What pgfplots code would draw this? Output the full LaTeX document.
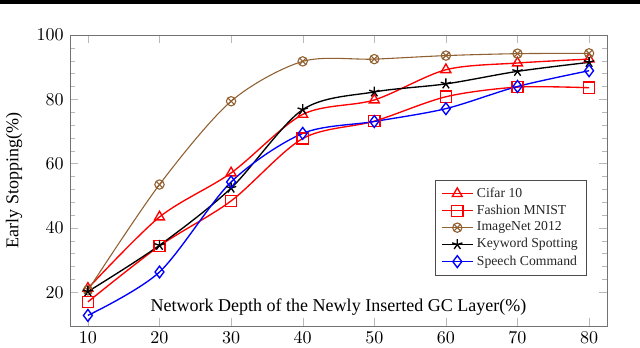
\documentclass[border=0pt]{standalone}
\usepackage{fontspec}
\setmainfont{Liberation Serif}
\usepackage{pgfplots}
\pgfplotsset{compat=1.18}

\begin{document}
\begin{tikzpicture}
% page size: 640 x 347 px at 0.555pt per px, axis box at the origin
\path[use as bounding box] (-38.85pt,-11.655pt) rectangle (316.35pt,180.93pt);
\fill[black] (-38.85pt,178.9pt) rectangle (316.35pt,180.93pt);
\begin{axis}[
  at={(0,0)}, anchor=south west,
  scale only axis,
  width=298.035pt, height=161.505pt,
  xmin=7.5, xmax=82.5,
  ymin=9.5, ymax=100,
  xtick={10,20,...,80},
  ytick={20,40,...,100},
  minor y tick num=4,
  axis line style={black!55},
  tick style={black!28},
  xlabel={Network Depth of the Newly Inserted GC Layer(\%)},
  ylabel={Early Stopping(\%)},
  xlabel style={at={(axis description cs:0.5,0.065)}, anchor=center},
  ylabel style={at={(axis description cs:-0.1043,0.5)}, anchor=center, rotate=0},
  legend style={at={(0.963,0.502)}, anchor=north east, draw=black!70,
    font=\fontsize{7.6}{8.6}\selectfont, cells={anchor=west}, row sep=-1.3pt,
    text=black!85},
  every axis plot/.append style={smooth, line width=0.75pt},
]
\addplot[red, mark=triangle, mark size=3.2pt, mark options={fill=white, solid}]
  coordinates {(10,21.2)(20,43.4)(30,57.1)(40,75.3)(50,79.8)(60,89.2)(70,91.3)(80,92.5)};
\addlegendentry{Cifar 10}
\addplot[red, mark=square, mark size=3.1pt, mark options={fill=white}]
  coordinates {(10,17)(20,34.4)(30,48.4)(40,67.8)(50,73.2)(60,80.8)(70,83.8)(80,83.6)};
\addlegendentry{Fashion MNIST}
\addplot[brown!75!black, line width=0.6pt, mark=otimes, mark size=2.6pt, mark options={fill=white}]
  coordinates {(10,20.6)(20,53.5)(30,79.4)(40,91.8)(50,92.5)(60,93.6)(70,94.2)(80,94.3)};
\addlegendentry{ImageNet 2012}
\addplot[black, mark=star, mark size=3pt]
  coordinates {(10,20.2)(20,34.6)(30,52.4)(40,76.8)(50,82.3)(60,84.8)(70,88.7)(80,91.5)};
\addlegendentry{Keyword Spotting}
\addplot[blue, mark=diamond, mark size=3.3pt, mark options={fill=white}]
  coordinates {(10,12.8)(20,26.3)(30,54.3)(40,69.4)(50,73.1)(60,77.1)(70,84)(80,88.9)};
\addlegendentry{Speech Command}
\end{axis}
\end{tikzpicture}
\end{document}
